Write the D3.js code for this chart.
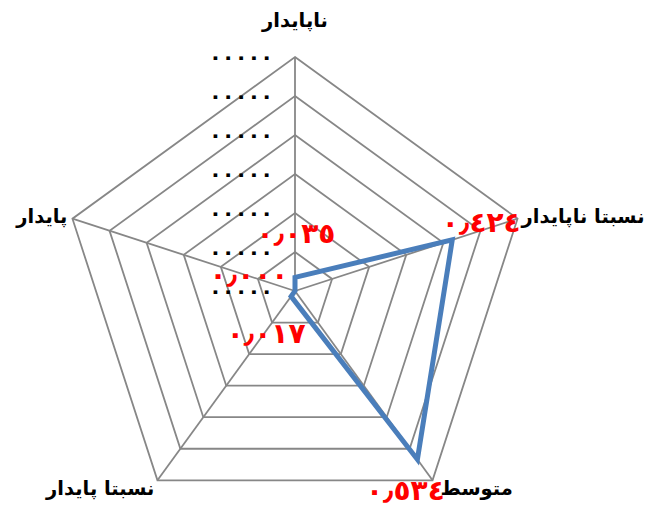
<!DOCTYPE html>
<html>
<head>
<meta charset="utf-8">
<script src="https://cdn.jsdelivr.net/npm/d3@7"></script>
<style>
  body { margin: 0; background: #fff; }
  text { font-family: "DejaVu Sans", sans-serif; }
</style>
</head>
<body>
<svg id="radar" width="651" height="508"></svg>
<script>
// axis categories, clockwise from the top
const categories = ["ناپایدار", "نسبتا ناپایدار", "متوسط", "نسبتا پایدار", "پایدار"];
const values = [0.035, 0.424, 0.534, 0.017, 0.0];
const ticks = [0, 0.1, 0.2, 0.3, 0.4, 0.5, 0.6];
const tickLabel = "۰۰۰۰۰";

let svg = d3.select('#radar');
let cx = 295, cy = 291, radius = 234;

let rscale = d3.scaleLinear()
               .domain([0, 0.6])
               .range([0, radius]);
let ascale = d3.scaleLinear()
               .domain([0, categories.length])
               .range([0, 2 * Math.PI]);

// point for a value on axis i
function pt(i, v) {
  let a = ascale(i);
  return [cx + rscale(v) * Math.sin(a), cy - rscale(v) * Math.cos(a)];
}

let toArabic = s => s.replace(/[0-9]/g, d => "٠١٢٣٤٥٦٧٨٩"[+d]).replace(".", "٫");
let fmt = d3.format(".3f");

let grid = svg.append('g');

// rings
grid.selectAll('.ring')
    .data(ticks.slice(1))
    .enter()
    .append('polygon')
    .attr('class', 'ring')
    .attr('points', t => categories.map((c, i) => pt(i, t).join(',')).join(' '))
    .attr('fill', 'none')
    .attr('stroke', '#878787')
    .attr('stroke-width', 1.8);

// spokes
grid.selectAll('.spoke')
    .data(categories)
    .enter()
    .append('line')
    .attr('x1', cx).attr('y1', cy)
    .attr('x2', (d, i) => pt(i, 0.6)[0])
    .attr('y2', (d, i) => pt(i, 0.6)[1])
    .attr('stroke', '#878787')
    .attr('stroke-width', 1.8);

// tick labels (render as rows of dots)
svg.append('g').selectAll('.tick')
   .data(ticks)
   .enter()
   .append('text')
   .attr('x', 209)
   .attr('y', t => cy - rscale(t) + 7)
   .attr('fill', '#000')
   .style('font-size', '21px')
   .style('font-weight', 'bold')
   .style('letter-spacing', '2px')
   .attr('direction', 'ltr')
   .text(tickLabel);

// data line
let line = d3.line().curve(d3.curveLinearClosed);
svg.append('path')
   .datum(values.map((v, i) => pt(i, v)))
   .attr('d', line)
   .attr('fill', 'none')
   .attr('stroke', '#4a7ebb')
   .attr('stroke-width', 5)
   .attr('stroke-linejoin', 'miter');

// category labels
const catPlace = [
  {dx: 0, dy: -30, anchor: 'middle'},
  {dx: 4, dy: 4, anchor: 'start'},
  {dx: 8, dy: 15, anchor: 'start'},
  {dx: -3, dy: 15, anchor: 'end'},
  {dx: -5, dy: 4, anchor: 'end'}
];
svg.append('g').selectAll('.cat')
   .data(categories)
   .enter()
   .append('text')
   .attr('x', (d, i) => pt(i, 0.6)[0] + catPlace[i].dx)
   .attr('y', (d, i) => pt(i, 0.6)[1] + catPlace[i].dy)
   .attr('text-anchor', (d, i) => catPlace[i].anchor)
   .attr('direction', 'ltr')
   .style('font-size', '19.5px')
   .style('font-weight', 'bold')
   .attr('fill', '#000')
   .text(d => d);

// value labels
const valPlace = [
  {dx: 1, dy: -34},
  {dx: 29, dy: -8},
  {dx: -12, dy: 41},
  {dx: -25, dy: 47},
  {dx: -46, dy: -7}
];
svg.append('g').selectAll('.val')
   .data(values)
   .enter()
   .append('text')
   .attr('x', (d, i) => pt(i, d)[0] + valPlace[i].dx)
   .attr('y', (d, i) => pt(i, d)[1] + valPlace[i].dy)
   .attr('text-anchor', 'middle')
   .attr('direction', 'ltr')
   .style('font-size', '28px')
   .style('font-weight', 'bold')
   .attr('fill', '#ff0000')
   .text(d => toArabic(fmt(d)));
</script>
</body>
</html>
